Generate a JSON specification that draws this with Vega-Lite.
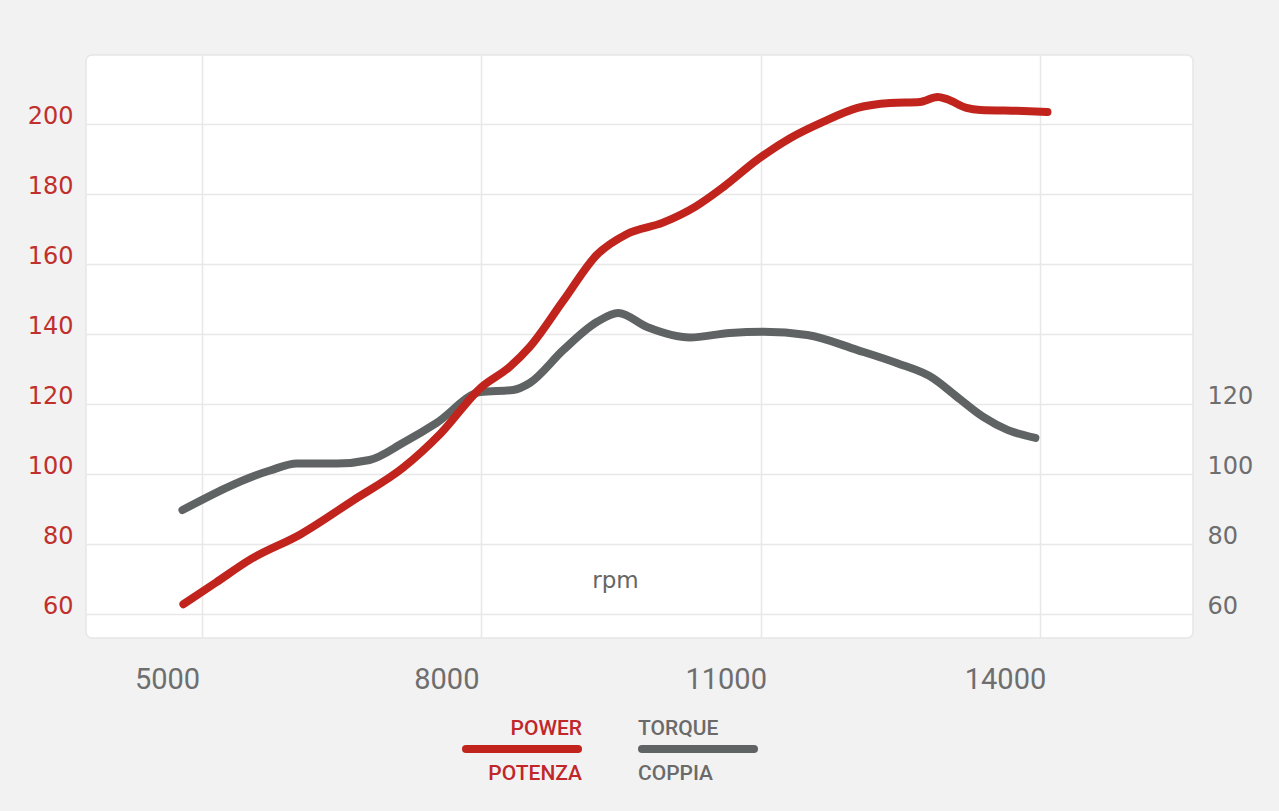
{
  "$schema": "https://vega.github.io/schema/vega-lite/v6.json",
  "width": 1107,
  "height": 583,
  "autosize": {"type": "none"},
  "padding": {"left": 86, "top": 55, "right": 86, "bottom": 173},
  "background": "#f2f2f2",
  "view": {"fill": "#ffffff", "stroke": "#e6e6e6", "strokeWidth": 1.5, "cornerRadius": 6},
  "datasets": {
    "power": [
      {"rpm": 4800, "value": 62.8, "series": "POWER"},
      {"rpm": 5150, "value": 69, "series": "POWER"},
      {"rpm": 5520, "value": 75.6, "series": "POWER"},
      {"rpm": 6060, "value": 82.8, "series": "POWER"},
      {"rpm": 6620, "value": 92.4, "series": "POWER"},
      {"rpm": 7160, "value": 101.8, "series": "POWER"},
      {"rpm": 7560, "value": 111.5, "series": "POWER"},
      {"rpm": 8000, "value": 124.8, "series": "POWER"},
      {"rpm": 8300, "value": 130.5, "series": "POWER"},
      {"rpm": 8520, "value": 136.3, "series": "POWER"},
      {"rpm": 8880, "value": 149.5, "series": "POWER"},
      {"rpm": 9240, "value": 162.6, "series": "POWER"},
      {"rpm": 9560, "value": 168.5, "series": "POWER"},
      {"rpm": 9950, "value": 171.8, "series": "POWER"},
      {"rpm": 10300, "value": 176.4, "series": "POWER"},
      {"rpm": 10600, "value": 182, "series": "POWER"},
      {"rpm": 10960, "value": 189.7, "series": "POWER"},
      {"rpm": 11320, "value": 196, "series": "POWER"},
      {"rpm": 11670, "value": 200.6, "series": "POWER"},
      {"rpm": 12040, "value": 204.6, "series": "POWER"},
      {"rpm": 12390, "value": 206, "series": "POWER"},
      {"rpm": 12710, "value": 206.3, "series": "POWER"},
      {"rpm": 12900, "value": 207.7, "series": "POWER"},
      {"rpm": 13000, "value": 207.1, "series": "POWER"},
      {"rpm": 13210, "value": 204.6, "series": "POWER"},
      {"rpm": 13360, "value": 204, "series": "POWER"},
      {"rpm": 13820, "value": 203.7, "series": "POWER"},
      {"rpm": 14080, "value": 203.4, "series": "POWER"}
    ],
    "torque": [
      {"rpm": 4790, "value": 89.7, "series": "TORQUE"},
      {"rpm": 5730, "value": 101.0, "series": "TORQUE"},
      {"rpm": 6020, "value": 103.0, "series": "TORQUE"},
      {"rpm": 6450, "value": 103, "series": "TORQUE"},
      {"rpm": 6800, "value": 104, "series": "TORQUE"},
      {"rpm": 7160, "value": 108.9, "series": "TORQUE"},
      {"rpm": 7520, "value": 114.6, "series": "TORQUE"},
      {"rpm": 7990, "value": 123.4, "series": "TORQUE"},
      {"rpm": 8340, "value": 124, "series": "TORQUE"},
      {"rpm": 8520, "value": 126, "series": "TORQUE"},
      {"rpm": 8880, "value": 135.4, "series": "TORQUE"},
      {"rpm": 9240, "value": 143.4, "series": "TORQUE"},
      {"rpm": 9470, "value": 146, "series": "TORQUE"},
      {"rpm": 9780, "value": 142, "series": "TORQUE"},
      {"rpm": 10240, "value": 139, "series": "TORQUE"},
      {"rpm": 10670, "value": 140.3, "series": "TORQUE"},
      {"rpm": 11030, "value": 140.6, "series": "TORQUE"},
      {"rpm": 11500, "value": 139.7, "series": "TORQUE"},
      {"rpm": 12040, "value": 135.4, "series": "TORQUE"},
      {"rpm": 12460, "value": 131.7, "series": "TORQUE"},
      {"rpm": 12850, "value": 127.4, "series": "TORQUE"},
      {"rpm": 13110, "value": 122, "series": "TORQUE"},
      {"rpm": 13390, "value": 116.3, "series": "TORQUE"},
      {"rpm": 13650, "value": 112.6, "series": "TORQUE"},
      {"rpm": 13950, "value": 110.3, "series": "TORQUE"}
    ]
  },
  "encoding": {
    "x": {
      "field": "rpm",
      "type": "quantitative",
      "scale": {"domain": [3754, 15643], "nice": false, "zero": false},
      "axis": {
        "values": [5000, 8000, 11000, 14000],
        "title": "rpm",
        "titleX": 529,
        "titleY": -51,
        "titleAlign": "center",
        "titleBaseline": "alphabetic",
        "titleFont": "DejaVu Sans",
        "titleFontSize": 23,
        "titleFontWeight": "normal",
        "titleColor": "#666666",
        "labelFont": "Roboto",
        "labelFontSize": 29,
        "labelColor": "#6e6e6e",
        "labelPadding": 27,
        "labelOffset": -35,
        "labelBaseline": "top",
        "ticks": false,
        "domain": false,
        "grid": true,
        "gridColor": "#e8e8e8",
        "gridWidth": 1.5,
        "format": "d"
      }
    },
    "color": {
      "field": "series",
      "type": "nominal",
      "scale": {"domain": ["POWER", "TORQUE"], "range": ["#c0241d", "#5f6364"]},
      "legend": {
        "orient": "none",
        "legendX": 376,
        "legendY": 634,
        "direction": "horizontal",
        "title": null,
        "padding": 0,
        "columnPadding": 32,
        "labelOffset": 0,
        "labelLimit": 400,
        "symbolType": "stroke",
        "symbolSize": 12544,
        "symbolStrokeWidth": 8,
        "labelFont": "Roboto",
        "labelFontSize": 21,
        "labelFontWeight": 500,
        "labelExpr": "datum.value == 'POWER' ? ['POWER', 'POTENZA'] : ['TORQUE', 'COPPIA']",
        "encode": {
          "symbols": {"update": {"strokeCap": {"value": "round"}, "opacity": {"value": 1}}},
          "labels": {
            "update": {
              "fill": {"signal": "datum.value == 'POWER' ? '#c0262a' : '#6a6a6a'"},
              "align": {"signal": "datum.value == 'POWER' ? 'right' : 'left'"},
              "dx": {"signal": "datum.value == 'POWER' ? 0 : -120"},
              "dy": {"value": -20},
              "lineHeight": {"value": 45}
            }
          }
        }
      }
    }
  },
  "layer": [
    {
      "data": {"name": "torque"},
      "mark": {"type": "line", "strokeWidth": 8, "strokeCap": "round", "strokeJoin": "round", "interpolate": "monotone"},
      "encoding": {
        "y": {
          "field": "value",
          "type": "quantitative",
          "scale": {"domain": [53.14, 219.7], "nice": false, "zero": false},
          "axis": {
            "orient": "right",
            "values": [60, 80, 100, 120],
            "title": null,
            "grid": false,
            "ticks": false,
            "domain": false,
            "labelFont": "DejaVu Sans",
            "labelFontSize": 24,
            "labelColor": "#6e6e6e",
            "labelPadding": 14,
            "labelOffset": -7
          }
        }
      }
    },
    {
      "data": {"name": "power"},
      "mark": {"type": "line", "strokeWidth": 8, "strokeCap": "round", "strokeJoin": "round", "interpolate": "monotone"},
      "encoding": {
        "y": {
          "field": "value",
          "type": "quantitative",
          "scale": {"domain": [53.14, 219.7], "nice": false, "zero": false},
          "axis": {
            "orient": "left",
            "values": [60, 80, 100, 120, 140, 160, 180, 200],
            "title": null,
            "grid": true,
            "gridColor": "#e8e8e8",
            "gridWidth": 1.5,
            "ticks": false,
            "domain": false,
            "labelFont": "DejaVu Sans",
            "labelFontSize": 24,
            "labelColor": "#c0302c",
            "labelPadding": 13,
            "labelOffset": -7
          }
        }
      }
    }
  ],
  "resolve": {"scale": {"y": "independent"}}
}
